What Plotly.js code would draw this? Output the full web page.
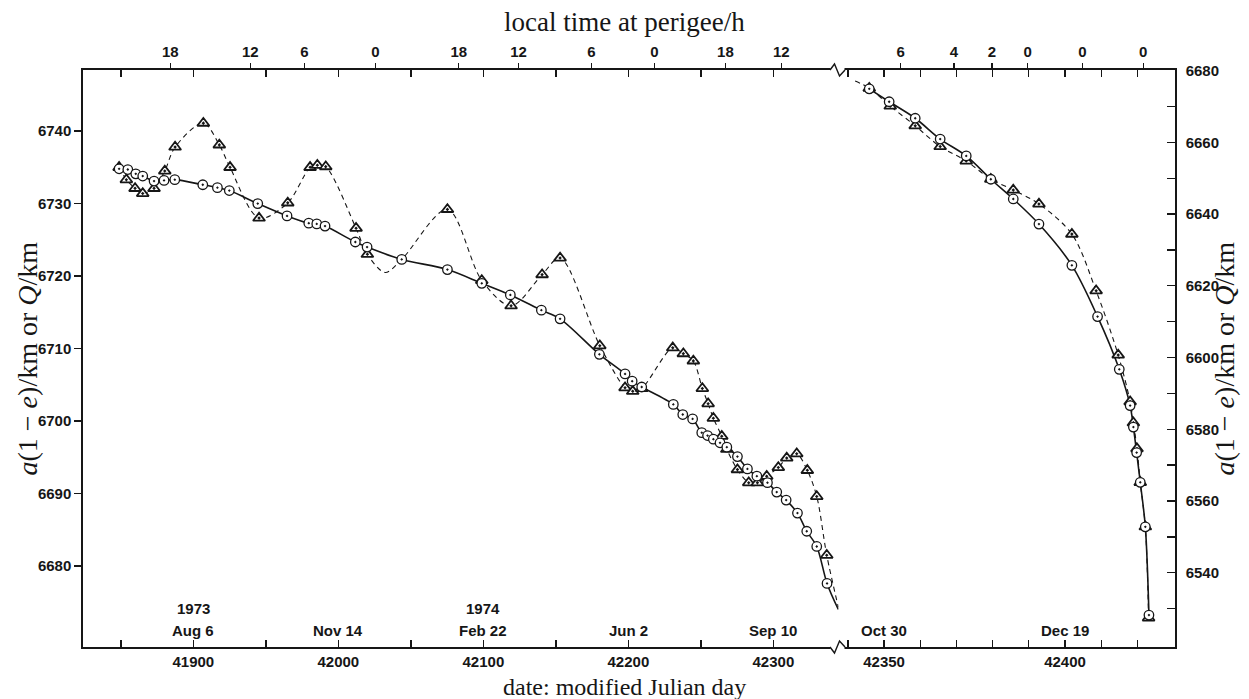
<!DOCTYPE html>
<html>
<head>
<meta charset="utf-8">
<script src="https://cdn.plot.ly/plotly-3.0.1.min.js"></script>
<style>
  html, body { margin: 0; padding: 0; background: #fff; }
  #chart { width: 1249px; height: 699px; }
</style>
</head>
<body>
<div id="chart"></div>
<script>
// Perigee height decay: a(1-e) (circles, solid) and Q (triangles, dashed) against MJD.
// Left panel: MJD 41824-42345, right panel (expanded scale): MJD 42337-42430.

// ---- left panel, a(1-e) ----
const circMjdA = [41848.8, 41854.8, 41860.3, 41865.1, 41872.9, 41879.8, 41887.2, 41906.5, 41916.6, 41924.8,
                  41944.4, 41964.6, 41979.6, 41985.1, 41990.8, 42011.7, 42019.8, 42043.7, 42075.2, 42098.9,
                  42118.6, 42140.0, 42152.9, 42180.0, 42197.7, 42202.6, 42209.2, 42231.0, 42237.5, 42244.3,
                  42250.6, 42254.6, 42258.6, 42263.2, 42267.9, 42275.2, 42282.1, 42288.6, 42295.9, 42302.3,
                  42308.8, 42316.6, 42323.0, 42329.9, 42337.0];
const circValA = [6734.8, 6734.7, 6734.1, 6733.8, 6733.1, 6733.2, 6733.3, 6732.6, 6732.2, 6731.8,
                  6730.0, 6728.3, 6727.3, 6727.2, 6726.9, 6724.7, 6724.0, 6722.3, 6720.9, 6719.0,
                  6717.4, 6715.3, 6714.1, 6709.2, 6706.5, 6705.5, 6704.7, 6702.3, 6700.9, 6700.3,
                  6698.4, 6698.0, 6697.5, 6697.0, 6696.4, 6695.1, 6693.4, 6692.4, 6691.5, 6690.2,
                  6689.1, 6687.3, 6684.8, 6682.7, 6677.6];
// solid curve continues past the last circle to the panel edge
const circTailMjdA = [42344.8];
const circTailValA = [6674.0];

// ---- left panel, Q ----
const triMjdA = [41848.8, 41853.8, 41859.8, 41865.1, 41872.9, 41880.3, 41887.4, 41906.9, 41917.9, 41925.3,
                 41945.3, 41965.1, 41980.5, 41985.5, 41991.3, 42012.2, 42020.0, 42075.2, 42098.9, 42119.1,
                 42140.5, 42152.9, 42180.3, 42197.7, 42203.0, 42209.2, 42230.6, 42237.9, 42244.8, 42251.0,
                 42255.0, 42258.6, 42264.4, 42267.9, 42275.2, 42283.0, 42289.0, 42295.4, 42303.4, 42309.2,
                 42316.1, 42323.4, 42329.9, 42336.8];
const triValA = [6735.0, 6733.3, 6732.1, 6731.4, 6732.1, 6734.5, 6737.8, 6741.1, 6738.1, 6735.0,
                 6728.0, 6730.1, 6735.0, 6735.3, 6735.1, 6726.6, 6723.0, 6729.2, 6719.4, 6715.9,
                 6720.2, 6722.5, 6710.4, 6704.6, 6704.1, 6704.5, 6710.1, 6709.3, 6708.3, 6704.5,
                 6702.4, 6700.4, 6697.9, 6696.1, 6693.3, 6691.5, 6691.5, 6692.4, 6693.6, 6694.9,
                 6695.5, 6693.2, 6689.6, 6681.5];
// extra points on the dashed curve between triangles (the dip near MJD 42032 and the tail)
const triCurveExtraMjdA = [42032.2, 42043.7, 42344.8];
const triCurveExtraValA = [6720.5, 6722.3, 6674.3];

// ---- right panel, a(1-e) ----
const circMjdB = [42345.9, 42351.4, 42358.6, 42365.5, 42372.7, 42379.5, 42385.7, 42392.8, 42401.9, 42409.0,
                  42415.0, 42418.0, 42418.9, 42419.8, 42420.8, 42422.2, 42423.2];
const circValB = [6674.9, 6671.3, 6666.7, 6660.9, 6656.2, 6649.7, 6644.2, 6637.2, 6625.7, 6611.4,
                  6596.7, 6586.6, 6580.6, 6573.5, 6565.2, 6552.8, 6528.2];

// ---- right panel, Q ----
const triMjdB = [42345.9, 42351.7, 42358.6, 42365.5, 42372.7, 42379.5, 42385.7, 42392.8, 42401.9, 42408.6,
                 42414.7, 42418.0, 42418.9, 42419.9, 42420.8, 42422.2, 42423.1];
const triValB = [6675.1, 6670.1, 6664.6, 6658.8, 6654.8, 6649.7, 6646.7, 6642.8, 6634.4, 6618.6,
                 6600.7, 6587.7, 6581.8, 6574.6, 6565.2, 6552.8, 6527.4];
// dashed lead-in entering the right panel
const triLeadMjdB = [42342.0];
const triLeadValB = [6677.1];

// ---- axis ticks ----
const mjdTicksA = [41850, 41900, 41950, 42000, 42050, 42100, 42150, 42200, 42250, 42300];
const mjdTicksB = [42340, 42350, 42360, 42370, 42380, 42390, 42400, 42410, 42420];
const mjdLabelEveryA = 100;
const mjdLabelEveryB = 50;

const localTimeMjdA = [41884.1, 41939.3, 41976.6, 42025.5, 42083.0, 42124.3, 42174.5, 42217.9, 42266.9, 42305.5];
const localTimeTextA = ['18', '12', '6', '0', '18', '12', '6', '0', '18', '12'];
const localTimeMjdB = [42354.6, 42369.3, 42379.8, 42389.7, 42404.8, 42421.6];
const localTimeTextB = ['6', '4', '2', '0', '0', '0'];

const yTicksA = [6680, 6690, 6700, 6710, 6720, 6730, 6740];
const yTicksB = [6530, 6540, 6550, 6560, 6570, 6580, 6590, 6600, 6610, 6620, 6630, 6640, 6650, 6660, 6670, 6680];

// calendar dates written above the MJD axis
const dateMjdA = [41900, 42000, 42100, 42200, 42300];
const dateTextA = ['Aug 6', 'Nov 14', 'Feb 22', 'Jun 2', 'Sep 10'];
const dateMjdB = [42350, 42400];
const dateTextB = ['Oct 30', 'Dec 19'];
const yearMjd = [41900, 42100];
const yearText = ['1973', '1974'];

// ---- geometry helpers (plot area in page pixels) ----
const W = 1249, H = 699;
const PX0 = 83, PX1 = 1175, PY0 = 70, PY1 = 647;
const px = x => (x - PX0) / (PX1 - PX0);
const py = y => (PY1 - y) / (PY1 - PY0);
const SPLIT = px(838.5);

function mergeSorted(xa, ya, xb, yb) {
  const pts = xa.map((x, i) => [x, ya[i]]).concat(xb.map((x, i) => [x, yb[i]]));
  pts.sort((p, q) => p[0] - q[0]);
  return { x: pts.map(p => p[0]), y: pts.map(p => p[1]) };
}

const solidA = mergeSorted(circMjdA, circValA, circTailMjdA, circTailValA);
const dashA = mergeSorted(triMjdA, triValA, triCurveExtraMjdA, triCurveExtraValA);
const dashB = mergeSorted(triMjdB, triValB, triLeadMjdB, triLeadValB);

const INK = '#161616';
const solidLine = { color: INK, width: 1.6, shape: 'spline', smoothing: 0.9 };
const dashLine = { color: INK, width: 1.1, dash: '5px,4px', shape: 'spline', smoothing: 0.9 };
const circMarker = { symbol: 'circle-dot', size: 9.5, color: '#fff', line: { color: INK, width: 1.3 } };
const triMarker = { symbol: 'triangle-up-dot', size: 10.5, color: '#fff', line: { color: INK, width: 1.8 } };

const traces = [
  { x: dashA.x, y: dashA.y, mode: 'lines', line: dashLine, xaxis: 'x', yaxis: 'y', hoverinfo: 'skip' },
  { x: solidA.x, y: solidA.y, mode: 'lines', line: solidLine, xaxis: 'x', yaxis: 'y', hoverinfo: 'skip' },
  { x: triMjdA, y: triValA, mode: 'markers', marker: triMarker, xaxis: 'x', yaxis: 'y', name: 'Q' },
  { x: circMjdA, y: circValA, mode: 'markers', marker: circMarker, xaxis: 'x', yaxis: 'y', name: 'a(1-e)' },

  { x: dashB.x, y: dashB.y, mode: 'lines', line: dashLine, xaxis: 'x2', yaxis: 'y2', hoverinfo: 'skip' },
  { x: circMjdB, y: circValB, mode: 'lines', line: solidLine, xaxis: 'x2', yaxis: 'y2', hoverinfo: 'skip' },
  { x: triMjdB, y: triValB, mode: 'markers', marker: triMarker, xaxis: 'x2', yaxis: 'y2', name: 'Q' },
  { x: circMjdB, y: circValB, mode: 'markers', marker: circMarker, xaxis: 'x2', yaxis: 'y2', name: 'a(1-e)' },

  // hosts for the local-time axes along the top
  { x: [], y: [], mode: 'markers', xaxis: 'x3', yaxis: 'y', hoverinfo: 'skip' },
  { x: [], y: [], mode: 'markers', xaxis: 'x4', yaxis: 'y2', hoverinfo: 'skip' }
];

const tickFont = { family: 'Liberation Sans, Arial, sans-serif', size: 15, color: INK, weight: 'bold' };
const serifFont = { family: 'Liberation Serif, Times New Roman, serif', size: 27, color: INK };
const serifFontWide = { family: 'Liberation Serif, Times New Roman, serif', size: 28, color: INK };
const serifFontBottom = { family: 'Liberation Serif, Times New Roman, serif', size: 24, color: INK };

const rangeA = [41823.9, 42344.9];
const rangeB = [42337.4, 42430.4];

const baseX = {
  tickmode: 'array', ticks: 'inside', ticklen: 7, tickwidth: 1.3, tickcolor: INK,
  showline: true, linewidth: 1.7, linecolor: INK, mirror: 'ticks',
  showgrid: false, zeroline: false, tickfont: tickFont, ticklabelstandoff: 0, fixedrange: true
};
const topX = {
  tickmode: 'array', ticks: 'outside', ticklen: 6, tickwidth: 1.3, tickcolor: INK,
  showline: false, showgrid: false, zeroline: false, side: 'top', tickfont: tickFont, fixedrange: true
};

const layout = {
  width: W, height: H,
  margin: { l: PX0, r: W - PX1, t: PY0, b: H - PY1, pad: 0 },
  paper_bgcolor: '#fff', plot_bgcolor: '#fff', showlegend: false,
  xaxis: Object.assign({}, baseX, {
    domain: [0, SPLIT], range: rangeA, anchor: 'y',
    tickvals: mjdTicksA, ticktext: mjdTicksA.map(v => v % mjdLabelEveryA === 0 ? String(v) : '')
  }),
  xaxis2: Object.assign({}, baseX, {
    domain: [SPLIT, 1], range: rangeB, anchor: 'y2',
    tickvals: mjdTicksB, ticktext: mjdTicksB.map(v => v % mjdLabelEveryB === 0 ? String(v) : '')
  }),
  xaxis3: Object.assign({}, topX, {
    overlaying: 'x', anchor: 'y', range: rangeA, tickvals: localTimeMjdA, ticktext: localTimeTextA
  }),
  xaxis4: Object.assign({}, topX, {
    overlaying: 'x2', anchor: 'y2', range: rangeB, tickvals: localTimeMjdB, ticktext: localTimeTextB
  }),
  yaxis: {
    domain: [0, 1], anchor: 'x', side: 'left', range: [6668.83, 6748.43],
    tickmode: 'array', tickvals: yTicksA, ticktext: yTicksA.map(String),
    ticks: 'outside', ticklen: 7, tickwidth: 1.3, tickcolor: INK,
    showline: true, linewidth: 1.7, linecolor: INK, mirror: false,
    showgrid: false, zeroline: false, tickfont: tickFont, fixedrange: true
  },
  yaxis2: {
    domain: [0, 1], anchor: 'x2', side: 'right', range: [6519.3, 6680.15],
    tickmode: 'array', tickvals: yTicksB, ticktext: yTicksB.map(v => v % 20 === 0 ? String(v) : ''),
    ticks: 'inside', ticklen: 8, tickwidth: 1.3, tickcolor: INK,
    showline: true, linewidth: 1.7, linecolor: INK, mirror: false,
    showgrid: false, zeroline: false, tickfont: tickFont, ticklabelstandoff: 6, fixedrange: true
  },
  annotations: [],
  shapes: []
};

// axis titles
const yTitle = '<i>a</i>(1 \u2212 <i>e</i>)/km or <i>Q</i>/km';
layout.annotations.push(
  { text: 'local time at perigee/h', xref: 'paper', yref: 'paper', x: px(624), y: py(22),
    showarrow: false, font: serifFont, xanchor: 'center', yanchor: 'middle' },
  { text: 'date: modified Julian day', xref: 'paper', yref: 'paper', x: px(624), y: py(701),
    showarrow: false, font: serifFontBottom, xanchor: 'center', yanchor: 'bottom', borderpad: 0 },
  { text: yTitle, xref: 'paper', yref: 'paper', x: px(27), y: 0.5, textangle: -90,
    showarrow: false, font: serifFontWide, xanchor: 'center', yanchor: 'middle' },
  { text: yTitle, xref: 'paper', yref: 'paper', x: px(1224), y: 0.5, textangle: -90,
    showarrow: false, font: serifFontWide, xanchor: 'center', yanchor: 'middle' }
);

// calendar dates
const dateFont = tickFont;
dateMjdA.forEach((m, i) => layout.annotations.push({
  text: dateTextA[i], xref: 'x', yref: 'paper', x: m, y: py(630), showarrow: false,
  font: dateFont, xanchor: 'center', yanchor: 'middle'
}));
dateMjdB.forEach((m, i) => layout.annotations.push({
  text: dateTextB[i], xref: 'x2', yref: 'paper', x: m, y: py(630), showarrow: false,
  font: dateFont, xanchor: 'center', yanchor: 'middle'
}));
yearMjd.forEach((m, i) => layout.annotations.push({
  text: yearText[i], xref: 'x', yref: 'paper', x: m, y: py(608), showarrow: false,
  font: dateFont, xanchor: 'center', yanchor: 'middle'
}));

// scale-break marks on the top and bottom frame lines
function breakMark(yLine, up) {
  const s = up ? -1 : 1;
  layout.shapes.push({
    type: 'rect', xref: 'paper', yref: 'paper', layer: 'above',
    x0: px(830.5), x1: px(844.5), y0: py(yLine - 4), y1: py(yLine + 4),
    fillcolor: '#fff', line: { width: 0 }
  });
  const pts = [[830, yLine], [834.5, yLine + 6 * s], [839.5, yLine - 6 * s], [845, yLine]];
  const path = pts.map((p, i) => (i ? 'L' : 'M') + px(p[0]).toFixed(5) + ',' + py(p[1]).toFixed(5)).join(' ');
  layout.shapes.push({
    type: 'path', xref: 'paper', yref: 'paper', layer: 'above', path: path,
    line: { color: INK, width: 1.4 }
  });
}
breakMark(PY0, true);
breakMark(PY1, false);

Plotly.newPlot('chart', traces, layout, { staticPlot: true, displayModeBar: false });
</script>
</body>
</html>
